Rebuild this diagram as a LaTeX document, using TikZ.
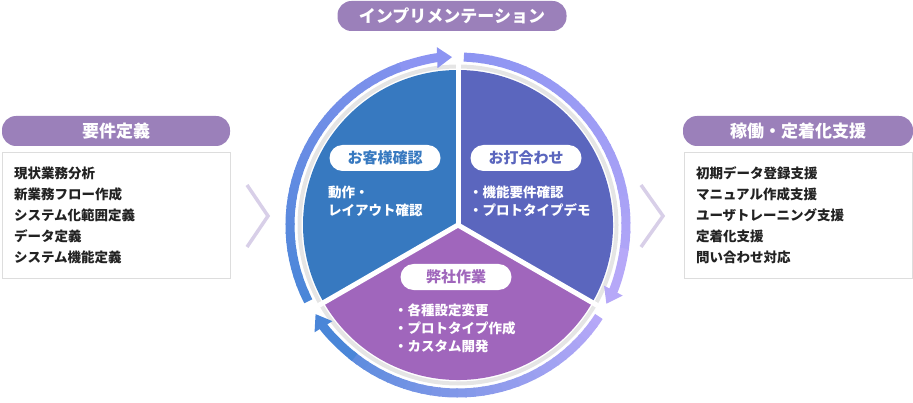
\documentclass[tikz,border=0pt]{standalone}
\usepackage{fontspec}
\setmainfont{Noto Sans CJK JP}
\usetikzlibrary{arrows.meta,positioning}
\definecolor{Ink}{HTML}{222222}
\definecolor{Phase}{HTML}{9B80BA}
\definecolor{Frame}{HTML}{DDDDDD}
\definecolor{Chevron}{HTML}{D8CFE8}
\definecolor{WedgeBlue}{HTML}{3779C0}
\definecolor{WedgeIndigo}{HTML}{5B66BE}
\definecolor{WedgeViolet}{HTML}{A066BC}
\definecolor{RingBlue}{HTML}{4A86D8}
\definecolor{RingPeri}{HTML}{8C94F2}
\definecolor{RingLav}{HTML}{B6A8F8}

\begin{document}
\begin{tikzpicture}[x=1pt,y=1pt,
    phase/.style={fill=Phase,text=white,rounded corners=14pt,minimum height=30pt,
      inner sep=0pt,font=\fontsize{17}{20}\selectfont\bfseries},
    listbox/.style={draw=Frame,fill=white,line width=1pt,text=Ink,align=left,
      text width=204pt,inner xsep=12pt,minimum height=126pt,
      font=\fontsize{13.5}{21}\selectfont\bfseries},
    tag/.style={fill=white,rounded corners=13pt,minimum width=111pt,minimum height=26pt,
      inner sep=0pt,font=\fontsize{15}{18}\selectfont\bfseries},
    detail/.style={text=white,align=left,inner sep=0pt,anchor=west,
      font=\fontsize{13.5}{18}\selectfont\bfseries},
    ringline/.style={line width=9pt},
    ringtip/.style={line width=9pt,-{Triangle[length=15pt,width=20pt]}},
    chevron/.style={draw=Chevron,line width=3.5pt}
  ]
  \useasboundingbox (0,0) rectangle (913,402);
  % phases
  \node[phase,minimum width=229pt] (impl) at (452,386) {インプリメンテーション};
  \node[phase,minimum width=228pt] (req) at (116,271) {要件定義};
  \node[listbox,below=6pt of req] (reqlist) {現状業務分析\\新業務フロー作成\\システム化範囲定義\\データ定義\\システム機能定義};
  \node[phase,minimum width=230pt] (ops) at (798,271) {稼働・定着化支援};
  \node[listbox,below=6pt of ops] (opslist) {初期データ登録支援\\マニュアル作成支援\\ユーザトレーニング支援\\定着化支援\\問い合わせ対応};
  \draw[chevron] (247,217) -- (268,186) -- (247,155);
  \draw[chevron] (641,217) -- (663,186) -- (641,155);
  % pie
  \coordinate (c) at (458,177);
  \draw[black!10,line width=4pt] (c) circle (158.5);
  \fill[WedgeBlue] (c) -- ++(90:155) arc[start angle=90,end angle=210,radius=155] -- cycle;
  \fill[WedgeIndigo] (c) -- ++(-30:155) arc[start angle=-30,end angle=90,radius=155] -- cycle;
  \fill[WedgeViolet] (c) -- ++(210:155) arc[start angle=210,end angle=330,radius=155] -- cycle;
  \foreach \b in {90,210,330}
    \draw[white,line width=5pt] (c) -- ++(\b:161);
  % ring
  \foreach \a [evaluate=\a as \p using {int((\a-92)/1.15)}] in {207,204,...,111}
    \draw[ringline,draw=RingBlue!\p!RingPeri] (c) ++(\a:168) arc[start angle=\a,end angle=\a-3.6,radius=168];
  \draw[ringtip,draw=RingPeri,fill=RingPeri] (c) ++(110:168) arc[start angle=110,end angle=92,radius=168];
  \foreach \a [evaluate=\a as \p using {int((\a+28)/1.16)}] in {88,85,...,-7}
    \draw[ringline,draw=RingPeri!\p!RingLav] (c) ++(\a:168) arc[start angle=\a,end angle=\a-3.6,radius=168];
  \draw[ringtip,draw=RingLav,fill=RingLav] (c) ++(-8:168) arc[start angle=-8,end angle=-28,radius=168];
  \foreach \a [evaluate=\a as \p using {int((\a+148)/1.15)}] in {-33,-36,...,-127}
    \draw[ringline,draw=RingLav!\p!RingBlue] (c) ++(\a:168) arc[start angle=\a,end angle=\a-3.6,radius=168];
  \draw[ringtip,draw=RingBlue,fill=RingBlue] (c) ++(-128:168) arc[start angle=-128,end angle=-148,radius=168];
  % wedge labels
  \node[tag,text=WedgeBlue] (check) at (385,244) {お客様確認};
  \node[detail] (checkdet) at (328,201) {動作・\\レイアウト確認};
  \node[tag,text=WedgeIndigo] (meet) at (526,244) {お打合わせ};
  \node[detail] (meetdet) at (469,201) {・機能要件確認\\・プロトタイプデモ};
  \node[tag,text=WedgeViolet] (work) at (456,125) {弊社作業};
  \node[detail] (workdet) at (394,73.5) {・各種設定変更\\・プロトタイプ作成\\・カスタム開発};
\end{tikzpicture}
\end{document}
